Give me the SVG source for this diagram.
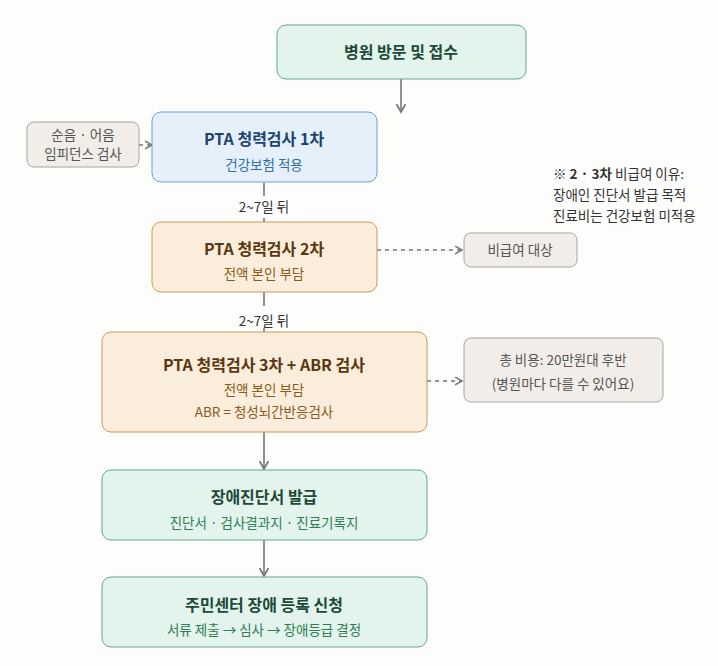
<svg xmlns="http://www.w3.org/2000/svg" width="718" height="666" viewBox="0 0 718 666">
<style>
text{font-family:"Noto Sans CJK KR","Noto Sans",sans-serif;text-anchor:middle}
.t{font-size:16px;font-weight:bold}
.s{font-size:13.5px}
.g rect{fill:#e3f4ec;stroke:#5faa86}
.g .t{fill:#1d4a36}.g .s{fill:#2e7d57}
.b rect{fill:#e6f0fb;stroke:#6a9fd4}
.b .t{fill:#1c4470}.b .s{fill:#2f6fae}
.o rect{fill:#fbeddb;stroke:#c9995e}
.o .t{fill:#5a3710}.o .s{fill:#8a5a1c}
.n rect{fill:#f1eeea;stroke:#a9a49e}
.n text{fill:#555;font-size:13.5px}
.l{stroke:#777;stroke-width:1.6;fill:none}
.d{stroke:#777;stroke-width:1.4;fill:none;stroke-dasharray:4 4}
.lab{font-size:13.5px;fill:#333}
.note{font-size:13.5px;fill:#333;text-anchor:start}
</style>
<defs><marker id="a" viewBox="0 0 10 10" refX="8" refY="5" markerWidth="7" markerHeight="7" orient="auto"><path d="M1 1L8 5L1 9" fill="none" stroke="#777" stroke-width="1.6"/></marker></defs>
<rect width="718" height="666" fill="#fdfdfc"/>
<g id="connectors">
<path class="l" d="M401 79V112" marker-end="url(#a)"/>
<path class="d" d="M139 145H152" marker-end="url(#a)"/>
<path class="l" d="M264 183V196M264 218V224"/>
<path class="l" d="M264 292V306M264 328V334"/>
<path class="d" d="M377 250H462" marker-end="url(#a)"/>
<path class="d" d="M427 381H462" marker-end="url(#a)"/>
<path class="l" d="M264 432V469" marker-end="url(#a)"/>
<path class="l" d="M264 540V576" marker-end="url(#a)"/>
</g>
<text class="lab" x="264" y="212">2~7일 뒤</text>
<text class="lab" x="264" y="326">2~7일 뒤</text>
<g id="n1" class="g"><rect x="277" y="25" width="249" height="54" rx="9"/><text class="t" x="401" y="58">병원 방문 및 접수</text></g>
<g id="n0" class="n"><rect x="27" y="122" width="112" height="45" rx="7"/><text x="83" y="140">순음 · 어음</text><text x="83" y="159">임피던스 검사</text></g>
<g id="n2" class="b"><rect x="152" y="112" width="225" height="70" rx="9"/><text class="t" x="264" y="145">PTA 청력검사 1차</text><text class="s" x="264" y="170">건강보험 적용</text></g>
<g id="n3" class="o"><rect x="152" y="222" width="225" height="70" rx="9"/><text class="t" x="264" y="255">PTA 청력검사 2차</text><text class="s" x="264" y="279">전액 본인 부담</text></g>
<g id="n4" class="n"><rect x="464" y="233" width="113" height="34" rx="7"/><text x="520" y="255">비급여 대상</text></g>
<text class="note" x="553" y="179">※ <tspan font-weight="bold">2 · 3차</tspan> 비급여 이유:</text>
<text class="note" x="553" y="200">장애인 진단서 발급 목적</text>
<text class="note" x="553" y="221">진료비는 건강보험 미적용</text>
<g id="n5" class="o"><rect x="102" y="332" width="325" height="100" rx="9"/><text class="t" x="264" y="371">PTA 청력검사 3차 + ABR 검사</text><text class="s" x="264" y="395">전액 본인 부담</text><text class="s" x="264" y="417">ABR = 청성뇌간반응검사</text></g>
<g id="n6" class="n"><rect x="464" y="338" width="199" height="64" rx="7"/><text x="563" y="365">총 비용: 20만원대 후반</text><text x="563" y="389">(병원마다 다를 수 있어요)</text></g>
<g id="n7" class="g"><rect x="102" y="470" width="325" height="70" rx="9"/><text class="t" x="264" y="503">장애진단서 발급</text><text class="s" x="264" y="528">진단서 · 검사결과지 · 진료기록지</text></g>
<g id="n8" class="g"><rect x="102" y="577" width="325" height="70" rx="9"/><text class="t" x="264" y="611">주민센터 장애 등록 신청</text><text class="s" x="264" y="635">서류 제출 → 심사 → 장애등급 결정</text></g>
</svg>
